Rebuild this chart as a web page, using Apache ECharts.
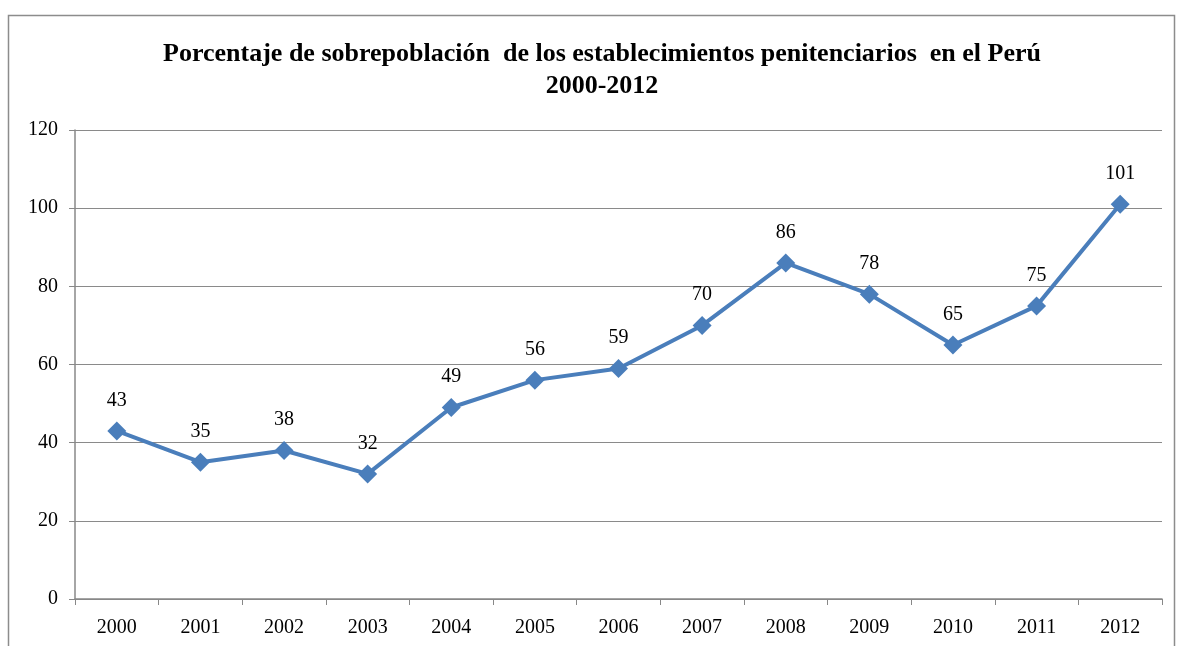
<!DOCTYPE html>
<html>
<head>
<meta charset="utf-8">
<script src="https://cdn.jsdelivr.net/npm/echarts@6/dist/echarts.min.js"></script>
<style>
  html, body { margin: 0; padding: 0; background: #fff; }
  #chart { width: 1180px; height: 646px; }
</style>
</head>
<body>
<div id="chart"></div>
<script>
// years and overpopulation percentages
const years = ['2000', '2001', '2002', '2003', '2004', '2005', '2006', '2007', '2008', '2009', '2010', '2011', '2012'];
const overpop = [43, 35, 38, 32, 49, 56, 59, 70, 86, 78, 65, 75, 101];

let myChart = echarts.init(document.getElementById('chart'));
const serif = '"Liberation Serif", "Times New Roman", serif';

myChart.setOption({
    animation: false,
    graphic: [
        { // chart frame
            type: 'rect',
            shape: { x: 8.5, y: 15.5, width: 1166, height: 660 },
            style: { fill: 'none', stroke: '#8c8c8c', lineWidth: 1.5 },
            silent: true
        }
    ],
    title: {
        text: 'Porcentaje de sobrepoblación  de los establecimientos penitenciarios  en el Perú\n2000-2012',
        left: 597,
        textAlign: 'center',
        top: 33,
        textStyle: {
            fontFamily: serif,
            fontWeight: 'bold',
            fontSize: 26,
            lineHeight: 32,
            color: '#000'
        }
    },
    grid: { left: 75, right: 18, top: 130, bottom: 47 },
    xAxis: {
        type: 'category',
        data: years,
        boundaryGap: true,
        axisLine: { lineStyle: { color: '#888', width: 1.5 } },
        axisTick: { show: true, inside: false, length: 6, alignWithLabel: false, lineStyle: { color: '#888' } },
        axisLabel: { fontFamily: serif, fontSize: 20, color: '#000', margin: 19 }
    },
    yAxis: {
        type: 'value',
        min: 0,
        max: 120,
        interval: 20,
        axisLine: { show: true, lineStyle: { color: '#888', width: 1.5 } },
        axisTick: { show: true, length: 6, lineStyle: { color: '#888' } },
        axisLabel: { fontFamily: serif, fontSize: 20, color: '#000', margin: 17 },
        splitLine: { lineStyle: { color: '#8a8a8a', width: 1.2 } }
    },
    series: [
        {
            name: 'sobrepoblación',
            type: 'line',
            data: overpop,
            symbol: 'diamond',
            symbolSize: 19,
            lineStyle: { color: '#4a7ebb', width: 4 },
            itemStyle: { color: '#4a7ebb' },
            label: {
                show: true,
                position: 'top',
                distance: 11,
                fontFamily: serif,
                fontSize: 20,
                color: '#000'
            }
        }
    ]
});
</script>
</body>
</html>
